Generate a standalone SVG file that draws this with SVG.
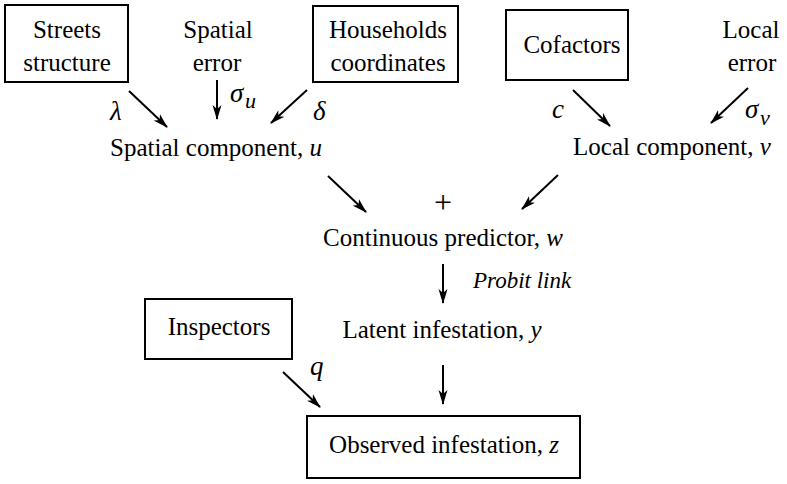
<svg xmlns="http://www.w3.org/2000/svg" width="787" height="484" viewBox="0 0 787 484" font-family="'Liberation Serif', 'DejaVu Serif', serif" font-size="25">
<defs>
<style>
.m{text-anchor:middle}
.i{font-style:italic}
.box{fill:#fff;stroke:#000;stroke-width:2}
.c{stroke:#000;stroke-width:2;fill:none;marker-end:url(#ah)}
</style>
<marker id="ah" viewBox="0 0 15 10" refX="14" refY="5" markerWidth="15" markerHeight="10" markerUnits="userSpaceOnUse" orient="auto">
<path d="M0,0.5 L15,5 L0,9.5 L4,5 Z" fill="#000"/>
</marker>
</defs>
<rect width="787" height="484" fill="#fff"/>
<g id="streets">
<rect class="box" x="5" y="5" width="123" height="77"/>
<text class="m" x="67" y="38">Streets</text>
<text class="m" x="67" y="71">structure</text>
</g>
<g id="spatial-error">
<text class="m" x="218" y="38">Spatial</text>
<text class="m" x="217" y="71">error</text>
</g>
<g id="households">
<rect class="box" x="313" y="6" width="145" height="76"/>
<text class="m" x="388" y="38">Households</text>
<text class="m" x="388" y="71">coordinates</text>
</g>
<g id="cofactors">
<rect class="box" x="506" y="10" width="122" height="70"/>
<text class="m" x="572" y="53">Cofactors</text>
</g>
<g id="local-error">
<text class="m" x="751" y="38">Local</text>
<text class="m" x="752" y="71">error</text>
</g>
<g id="spatial-component">
<text class="m" x="216" y="156">Spatial component, <tspan class="i">u</tspan></text>
</g>
<g id="local-component">
<text class="m" x="672" y="155">Local component, <tspan class="i">v</tspan></text>
</g>
<g id="plus">
<text class="m" x="443" y="213" font-size="32">+</text>
</g>
<g id="continuous-predictor">
<text class="m" x="443" y="246">Continuous predictor, <tspan class="i">w</tspan></text>
</g>
<g id="latent">
<text class="m" x="442" y="338">Latent infestation, <tspan class="i">y</tspan></text>
</g>
<g id="inspectors">
<rect class="box" x="145" y="299" width="147" height="60"/>
<text class="m" x="219" y="335">Inspectors</text>
</g>
<g id="observed">
<rect class="box" x="307" y="416" width="273" height="62"/>
<text class="m" x="444" y="453">Observed infestation, <tspan class="i">z</tspan></text>
</g>
<g id="connectors">
<line class="c" x1="129" y1="91" x2="167" y2="127"/>
<line class="c" x1="217" y1="80" x2="217" y2="119"/>
<line class="c" x1="307" y1="90" x2="271" y2="123"/>
<line class="c" x1="573" y1="90" x2="610" y2="126"/>
<line class="c" x1="748" y1="88" x2="711" y2="123"/>
<line class="c" x1="328" y1="176" x2="366" y2="212"/>
<line class="c" x1="558" y1="175" x2="522" y2="209"/>
<line class="c" x1="443" y1="264" x2="443" y2="303"/>
<line class="c" x1="443" y1="365" x2="443" y2="404"/>
<line class="c" x1="283" y1="372" x2="320" y2="407"/>
<text class="i" x="110" y="120" font-size="27">λ</text>
<text class="i" x="230" y="102" font-size="27">σ</text><text class="i" x="245" y="108" font-size="22">u</text>
<text class="i" x="313" y="120" font-size="27">δ</text>
<text class="i" x="552" y="118" font-size="27">c</text>
<text class="i" x="745" y="118" font-size="27">σ</text><text class="i" x="760" y="125" font-size="22">v</text>
<text class="i" x="473" y="288" font-size="23">Probit link</text>
<text class="i" x="310" y="375" font-size="27">q</text>
</g>
</svg>
